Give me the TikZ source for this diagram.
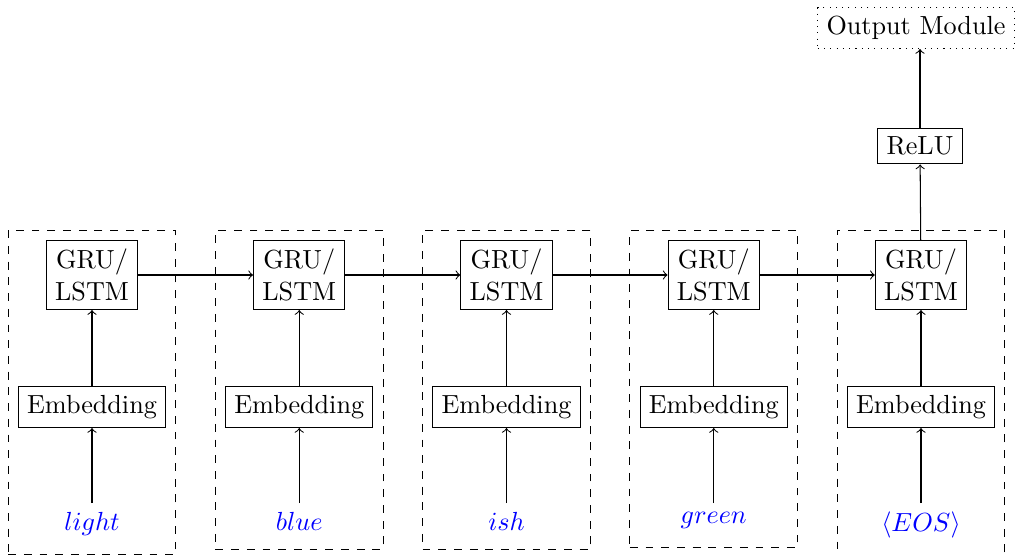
\documentclass[tikz,border=0pt]{standalone}
\usetikzlibrary{fit}
\begin{document}
\begin{tikzpicture}[x=0.382pt,y=-0.382pt,
  box/.style={draw, align=center},
  word/.style={text=blue, anchor=north},
  grp/.style={draw, dashed, inner sep=3.7pt},
  arr/.style={->}]
\useasboundingbox (0,0) rectangle (1016,555);
\foreach \i/\w in {1/light,2/blue,3/ish,4/green,5/{\langle EOS\rangle}}{
  \pgfmathsetmacro{\cx}{92+207.25*(\i-1)}
  \node[box] (g\i) at (\cx,275) {GRU/\\LSTM};
  \node[box] (e\i) at (\cx,407) {Embedding};
  \node[word] (w\i) at (\cx,503) {$\w$};
  \draw[arr] (e\i) -- (g\i);
  \draw[arr] (w\i) -- (e\i);
  \node[grp, fit=(g\i) (e\i) (w\i)] (c\i) {};
}
\foreach \i/\j in {1/2,2/3,3/4,4/5}{
  \draw[arr] (g\i) -- (g\j);
}
\node[box] (relu) at (920,146) {ReLU};
\node[draw, dotted] (out) at (916,28) {Output Module};
\draw[arr] (g5) -- (relu);
\draw[arr] (relu) -- (relu |- out.south);
\end{tikzpicture}
\end{document}
